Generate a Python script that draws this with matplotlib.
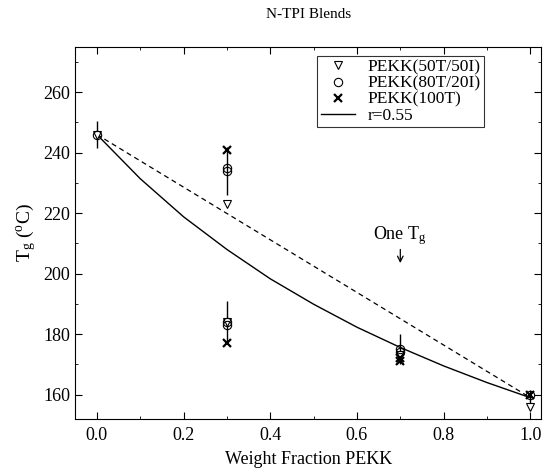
import numpy as np
import matplotlib
matplotlib.use('Agg')
import matplotlib.pyplot as plt

plt.rcParams['font.family'] = 'Liberation Serif'
plt.rcParams['mathtext.fontset'] = 'custom'
plt.rcParams['mathtext.rm'] = 'Liberation Serif'
plt.rcParams['mathtext.it'] = 'Liberation Serif'

# PEKK(50T/50I)
x_tri = [0.0, 0.3, 0.3, 0.7, 1.0]
y_tri = [246, 223, 184, 173, 156]
# PEKK(80T/20I)
x_circ = [0.0, 0.3, 0.3, 0.3, 0.3, 0.7, 0.7, 1.0]
y_circ = [246, 235, 234, 184, 183, 175, 174, 160]
# PEKK(100T)
x_cross = [0.3, 0.3, 0.7, 0.7, 1.0]
y_cross = [241, 177, 172, 171, 160]

# error bars
x_err = [0.0, 0.3, 0.3, 0.7, 1.0]
y_err = [246, 234, 184, 175, 159]
e_err = [4.5, 8, 7, 5, 2.5]

# r=0.55 fit curve
x_fit = [0.0, 0.1, 0.2, 0.3, 0.4, 0.5, 0.6, 0.7, 0.8, 0.9, 1.0]
y_fit = [246, 231.4, 218.8, 208.0, 198.3, 189.9, 182.3, 175.6, 169.5, 164.0, 159]

# linear mixing line
x_lin = [0.0, 1.0]
y_lin = [246, 159]

fig = plt.figure(figsize=(5.45, 4.68), dpi=100)
ax = fig.add_axes([0.138, 0.105, 0.855, 0.795])

ax.errorbar(x_err, y_err, yerr=e_err, fmt='none', ecolor='black', elinewidth=1.0, capsize=0, zorder=2)
ax.plot(x_lin, y_lin, color='black', linestyle=(0, (4, 3)), linewidth=0.9)
ax.plot(x_tri, y_tri, linestyle='none', marker='v', markersize=6, markerfacecolor='white',
        markeredgecolor='black', markeredgewidth=0.8, label='PEKK(50T/50I)', zorder=3)
ax.plot(x_circ, y_circ, linestyle='none', marker='o', markersize=6, markerfacecolor='none',
        markeredgecolor='black', markeredgewidth=0.8, label='PEKK(80T/20I)', zorder=3)
ax.plot(x_cross, y_cross, linestyle='none', marker='x', markersize=5.5, color='black',
        markeredgewidth=1.6, label='PEKK(100T)', zorder=3)
ax.plot(x_fit, y_fit, color='black', linewidth=1.0, label='r=0.55')

ax.text(0.7, 208.7, 'One T$_\\mathregular{g}$', ha='center', va='bottom', fontsize=13)
ax.annotate('', xy=(0.7, 203.5), xytext=(0.7, 208),
            arrowprops=dict(arrowstyle='->', color='black', lw=0.9, shrinkA=0, shrinkB=0))

ax.set_xlim(-0.05, 1.025)
ax.set_ylim(152, 275)
ax.set_xticks([0.0, 0.2, 0.4, 0.6, 0.8, 1.0])
ax.set_xticklabels(['0.0', '0.2', '0.4', '0.6', '0.8', '1.0'])
ax.set_yticks([160, 180, 200, 220, 240, 260])
ax.set_xticks(np.arange(0.1, 1.0, 0.2), minor=True)
ax.set_yticks(np.arange(170, 275, 20), minor=True)
ax.tick_params(which='both', direction='in', top=True, right=True, labelsize=13)
ax.tick_params(which='major', length=5)
ax.tick_params(which='minor', length=2.5)
ax.tick_params(axis='x', pad=6)

ax.set_xlabel('Weight Fraction PEKK', fontsize=13, labelpad=5)
ax.set_ylabel('T$_\\mathregular{g}$ ($^\\mathregular{o}$C)', fontsize=14, labelpad=4)
ax.set_title('N-TPI Blends', fontsize=11, pad=21)

leg = ax.legend(loc='upper right', bbox_to_anchor=(0.885, 0.985), fontsize=12.5, frameon=True,
                fancybox=False, edgecolor='black', handlelength=2.0, handletextpad=0.7,
                borderpad=0.2, labelspacing=0.0, borderaxespad=0.2)
leg.get_frame().set_linewidth(0.8)

fig.savefig('out.png', dpi=100)
